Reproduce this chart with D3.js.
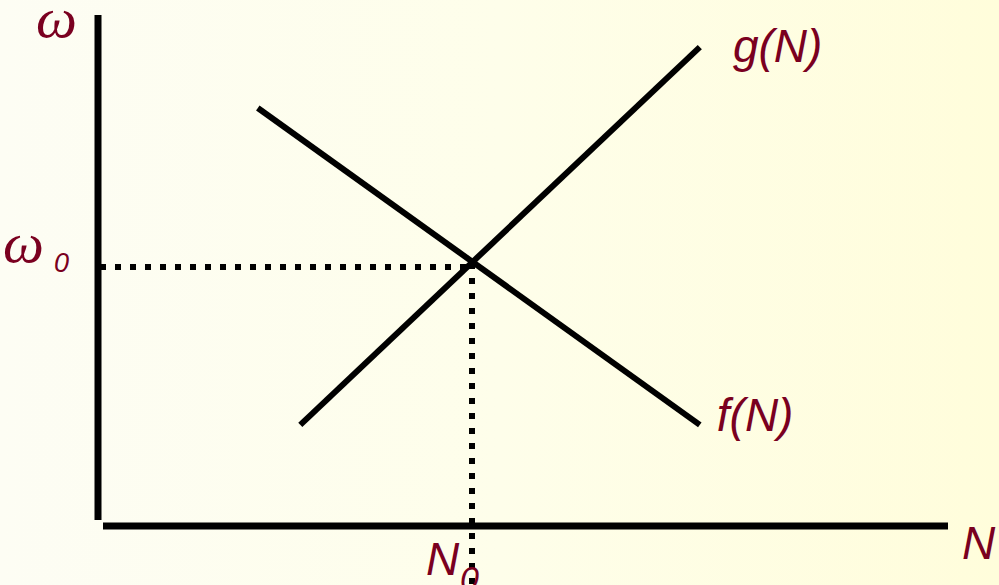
<!DOCTYPE html>
<html>
<head>
<meta charset="utf-8">
<script src="https://cdn.jsdelivr.net/npm/d3@7/dist/d3.min.js"></script>
<style>
html,body{margin:0;padding:0;overflow:hidden;background:#fefef0;}
svg{display:block;}
</style>
</head>
<body>
<script>
// ---- data (conceptual units: N and ω on 0..100 scales) ----
const gN = [ {N: 23.8, w: 19.8}, {N: 70.8, w: 93.7} ];   // curve g(N)
const fN = [ {N: 18.8, w: 81.8}, {N: 70.8, w: 19.8} ];   // curve f(N)
const equilibrium = {N: 44, w: 50.7};                    // (N0, ω0)
const curveLabels = [ {text: "g(N)", N: 74.7, w: 90.8}, {text: "f(N)", N: 72.8, w: 18.6} ];
const axisLabels = {y: "ω", x: "N", y0: "ω", y0sub: "0", x0: "N", x0sub: "0"};

const W = 999, H = 585;
const ink = "#7a0020";

const x = d3.scaleLinear().domain([0, 100]).range([98, 948]);
const y = d3.scaleLinear().domain([0, 100]).range([526, 15]);

const svg = d3.select("body").append("svg").attr("width", W).attr("height", H);

const defs = svg.append("defs");
const grad = defs.append("linearGradient").attr("id", "bg").attr("x1", "0").attr("x2", "1").attr("y1", "0").attr("y2", "0");
grad.append("stop").attr("offset", "0").attr("stop-color", "#fdfdf4");
grad.append("stop").attr("offset", "0.5").attr("stop-color", "#fefeea");
grad.append("stop").attr("offset", "1").attr("stop-color", "#fffddb");
svg.append("rect").attr("width", W).attr("height", H).attr("fill", "url(#bg)");

// axes (plain lines, no ticks)
svg.append("line")
  .attr("x1", x(0)).attr("x2", x(0))
  .attr("y1", y(100)).attr("y2", y(0) - 6)
  .attr("stroke", "#000").attr("stroke-width", 7);
svg.append("line")
  .attr("x1", x(0) + 5).attr("x2", x(100))
  .attr("y1", y(0)).attr("y2", y(0))
  .attr("stroke", "#000").attr("stroke-width", 7);

// dotted guides
svg.append("line")
  .attr("x1", x(0) + 2).attr("x2", x(equilibrium.N))
  .attr("y1", y(equilibrium.w)).attr("y2", y(equilibrium.w))
  .attr("stroke", "#000").attr("stroke-width", 6).attr("stroke-dasharray", "6,9");
svg.append("line")
  .attr("x1", x(equilibrium.N)).attr("x2", x(equilibrium.N))
  .attr("y1", y(equilibrium.w) - 4).attr("y2", H + 5)
  .attr("stroke", "#000").attr("stroke-width", 6).attr("stroke-dasharray", "6,9");

// curves
const line = d3.line().x(d => x(d.N)).y(d => y(d.w));
[gN, fN].forEach(s => {
  svg.append("path").attr("d", line(s))
    .attr("fill", "none").attr("stroke", "#000").attr("stroke-width", 6);
});

// curve labels
curveLabels.forEach(l => {
  svg.append("text").attr("x", x(l.N)).attr("y", y(l.w))
    .attr("font-family", "'Liberation Sans', Arial, sans-serif")
    .attr("font-style", "italic").attr("font-size", 46)
    .attr("fill", ink).text(l.text);
});

// axis labels
const serif = "'Liberation Serif', 'Times New Roman', serif";
const sans = "'Liberation Sans', Arial, sans-serif";
svg.append("text").attr("x", 36).attr("y", 37)
  .attr("font-family", serif).attr("font-style", "italic").attr("font-size", 58)
  .attr("fill", ink).text(axisLabels.y);
svg.append("text").attr("x", 3).attr("y", 262)
  .attr("font-family", serif).attr("font-style", "italic").attr("font-size", 58)
  .attr("fill", ink).text(axisLabels.y0);
svg.append("text").attr("x", 54).attr("y", 272)
  .attr("font-family", sans).attr("font-style", "italic").attr("font-size", 27)
  .attr("fill", ink).text(axisLabels.y0sub);
svg.append("text").attr("x", 962).attr("y", 559)
  .attr("font-family", sans).attr("font-style", "italic").attr("font-size", 46)
  .attr("fill", ink).text(axisLabels.x);
svg.append("text").attr("x", 426).attr("y", 575)
  .attr("font-family", sans).attr("font-style", "italic").attr("font-size", 46)
  .attr("fill", ink).text(axisLabels.x0);
svg.append("text").attr("x", 460).attr("y", 590)
  .attr("font-family", sans).attr("font-style", "italic").attr("font-size", 34)
  .attr("fill", ink).text(axisLabels.x0sub);
</script>
</body>
</html>
